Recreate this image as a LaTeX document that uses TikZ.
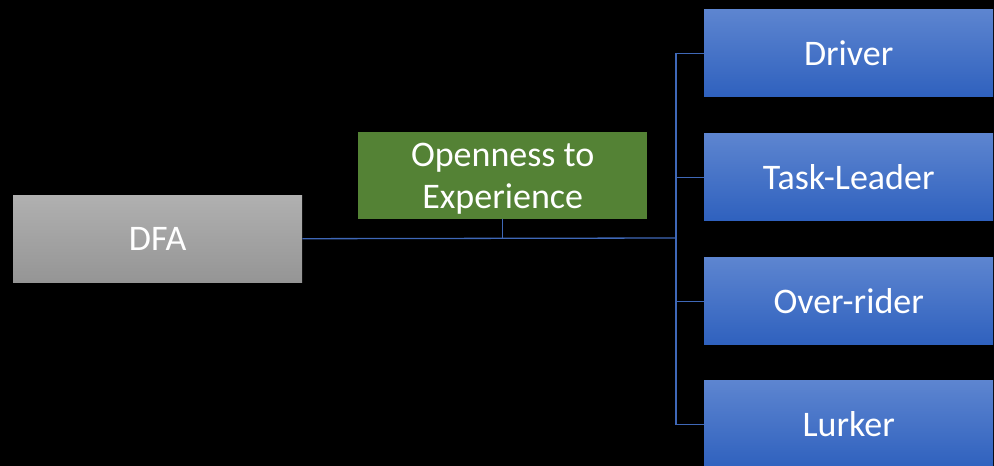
\documentclass[tikz,border=0pt]{standalone}
\usepackage{fontspec}
\setmainfont{Carlito}
\definecolor{linkblue}{HTML}{3F68B8}
\definecolor{greybot}{HTML}{959595}
\definecolor{greytop}{HTML}{B0B0B0}
\definecolor{bluetop}{HTML}{5D85D0}
\definecolor{bluebot}{HTML}{2F61BE}
\definecolor{leafgreen}{HTML}{548235}
\begin{document}
\begin{tikzpicture}[x=1pt,y=-1pt,
  box/.style={minimum width=289pt, minimum height=87pt, inner sep=0pt,
    text=white, font=\fontsize{36}{42}\selectfont, align=center, anchor=north west},
  greybox/.style={box, top color=greytop, bottom color=greybot},
  bluebox/.style={box, top color=bluetop, bottom color=bluebot},
  greenbox/.style={box, fill=leafgreen, text depth=0pt},
  link/.style={draw=linkblue, line width=1.3pt}]
\fill[black] (0,0) rectangle (994,466);
\useasboundingbox (0,0) rectangle (994,466);

\node[greybox] (dfa) at (13,195) {DFA};
\node[greenbox] (open) at (358,132) {Openness to\\Experience};
\node[bluebox] (driver) at (704,9.5) {Driver};
\node[bluebox] (task) at (704,133.5) {Task-Leader};
\node[bluebox] (over) at (704,257.5) {Over-rider};
\node[bluebox] (lurk) at (704,380.5) {Lurker};

\coordinate (trunk) at (676,238);
\coordinate (joint) at (open.south |- trunk);

\draw[link] (dfa.east) -- (trunk);
\draw[link] (open.south) -- (joint);
\draw[link] (driver.west) -| (trunk);
\draw[link] (lurk.west) -| (trunk);
\draw[link] (task.west) -- (task.west -| trunk);
\draw[link] (over.west) -- (over.west -| trunk);
\end{tikzpicture}
\end{document}
